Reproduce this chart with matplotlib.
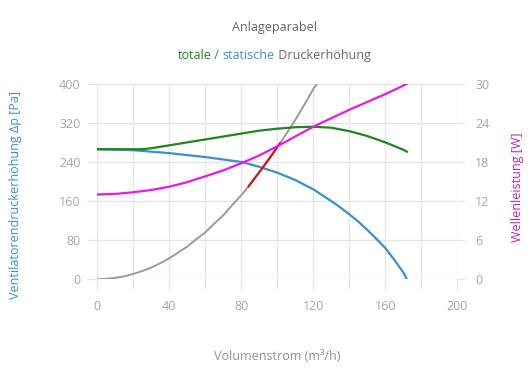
import matplotlib
matplotlib.use("Agg")
import matplotlib.pyplot as plt

# Volumenstrom (m³/h) and readings
v_static = [0, 10, 20, 30, 40, 50, 60, 70, 80, 90, 100, 110, 120, 130, 135, 140, 145, 150, 155, 160, 165, 170, 172]
p_static = [266, 265, 264, 261, 258, 254, 250, 245, 240, 230, 218, 203, 184, 160, 147, 133, 118, 101, 83, 64, 40, 14, 0]

v_total = [0, 10, 20, 25, 30, 40, 50, 60, 70, 80, 90, 100, 110, 120, 130, 140, 150, 160, 170, 172]
p_total = [266, 266, 266, 266, 268, 274, 280, 286, 292, 298, 304, 308, 311, 312, 310, 303, 293, 280, 265, 261]

v_power = [0, 10, 20, 30, 40, 50, 60, 70, 80, 90, 100, 110, 120, 130, 140, 150, 160, 170, 172]
w_power = [13.0, 13.1, 13.35, 13.7, 14.2, 14.9, 15.8, 16.7, 17.8, 19.0, 20.4, 21.9, 23.4, 24.7, 26.0, 27.2, 28.4, 29.7, 30.0]

v_anlage = [0, 5, 10, 15, 20, 25, 30, 35, 40, 45, 50, 55, 60, 65, 70, 75, 80, 84, 90, 95, 101.5, 106, 110, 115, 120, 122]
p_anlage = [0, 1, 3, 6, 11, 17, 24, 33, 43, 55, 67, 82, 96, 114, 131, 152, 172, 190, 219, 244, 278, 303, 326, 357, 389, 400]

v_betrieb = [84, 90, 95, 101.5]
p_betrieb = [190, 219, 244, 278]

x_ticks = [0, 40, 80, 120, 160, 200]
y_ticks = [0, 80, 160, 240, 320, 400]
y2_ticks = [0, 6, 12, 18, 24, 30]

plt.rcParams['font.family'] = ['Open Sans', 'DejaVu Sans']

grid_col = '#e6e6e6'
tick_col = '#a6a6a6'
blue = '#3a8fd0'
green = '#1f861f'
magenta = '#e619e6'

fig = plt.figure(figsize=(5.3, 3.9), dpi=100)
ax = fig.add_axes([0.1836, 0.2838, 0.6792, 0.5016])

ax.plot(v_anlage, p_anlage, color='#9a9a9a', lw=1.4, zorder=3)
ax.plot(v_betrieb, p_betrieb, color='#d01010', lw=1.5, zorder=4)
ax.plot(v_static, p_static, color=blue, lw=1.6, zorder=3)
ax.plot(v_total, p_total, color=green, lw=1.6, zorder=3)

ax.set_xlim(0, 200)
ax.set_ylim(0, 400)
ax.set_xticks(x_ticks)
ax.set_xticks(range(0, 201, 20), minor=True)
ax.set_yticks(y_ticks)
ax.grid(True, which='both', color=grid_col, lw=1)
ax.set_axisbelow(True)
ax.tick_params(axis='both', which='both', colors=grid_col, length=7, width=1,
               labelcolor=tick_col, labelsize=9, pad=5)
ax.tick_params(axis='x', which='both', pad=8)
for s in ax.spines.values():
    s.set_visible(False)

ax2 = ax.twinx()
ax2.plot(v_power, w_power, color=magenta, lw=1.6, zorder=3)
ax2.set_ylim(0, 30)
ax2.set_yticks(y2_ticks)
ax2.tick_params(axis='y', colors=grid_col, length=6, width=1,
                labelcolor=tick_col, labelsize=9, pad=7)
for s in ax2.spines.values():
    s.set_visible(False)

fig.text(0.517, 0.93, 'Anlageparabel', ha='center', va='center', color='#666666', fontsize=9)

# subtitle in several colours
parts = [('totale', green), (' / ', '#666666'), ('statische', blue), (' Druckerhöhung', '#666666')]
renderer = fig.canvas.get_renderer()
texts = []
widths = []
for s, c in parts:
    t = fig.text(0, 0.858, s, ha='left', va='center', color=c, fontsize=9)
    texts.append(t)
    widths.append(t.get_window_extent(renderer).width / fig.bbox.width)
x = 0.517 - sum(widths) / 2
for t, w in zip(texts, widths):
    t.set_x(x)
    x += w

fig.text(0.523, 0.085, 'Volumenstrom (m³/h)', ha='center', va='center', color='#909090', fontsize=9)
fig.text(0.03, 0.5, 'Ventilatorendruckerhöhung Δp [Pa]', ha='center', va='center',
         rotation=90, color=blue, fontsize=9)
fig.text(0.977, 0.52, 'Wellenleistung [W]', ha='center', va='center',
         rotation=90, color='#c020c0', fontsize=9)

fig.savefig('out.png', dpi=100)
